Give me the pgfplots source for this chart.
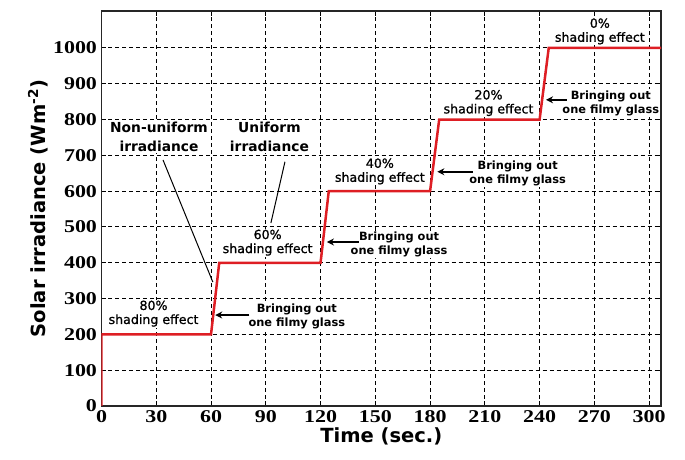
\documentclass[border=0pt]{standalone}
\usepackage{pgfplots}
\pgfplotsset{compat=1.18}
\usepackage{fontspec}
\setmainfont{DejaVu Sans}
\newfontfamily\tickfont[FakeStretch=1.22]{Liberation Serif}
\newfontfamily\semifont[FakeBold=1]{DejaVu Sans}
\usetikzlibrary{arrows.meta}
\definecolor{stepred}{RGB}{222,30,36}
\tikzset{
  annot/.style={fill=white, inner sep=1pt, align=center},
  shadetxt/.style={annot, font=\semifont\fontsize{12.6}{14}\selectfont},
  bringtxt/.style={annot, font=\bfseries\fontsize{11.4}{14}\selectfont},
  bigtxt/.style={annot, font=\bfseries\fontsize{13.8}{19}\selectfont},
  arr/.style={-{Stealth[length=7pt,width=7pt]}, line width=1.6pt, black},
}
\begin{document}
\begin{tikzpicture}
\begin{axis}[
  scale only axis, width=559.5pt, height=395pt,
  xmin=0, xmax=306.5, ymin=0, ymax=1103,
  xtick={0,30,60,90,120,150,180,210,240,270,300},
  ytick={0,100,200,300,400,500,600,700,800,900,1000},
  grid=major,
  grid style={line width=1pt, draw=black, dash pattern=on 4pt off 3pt},
  axis line style={line width=1.2pt, black!85},
  tick style={line width=1pt, draw=black}, major tick length=5pt,
  tick align=inside,
  /pgf/number format/assume math mode=true,
  /pgf/number format/set thousands separator={},
  xticklabel style={font=\tickfont\bfseries\fontsize{18}{18}\selectfont, yshift=-1pt},
  yticklabel style={font=\tickfont\bfseries\fontsize{18}{18}\selectfont, xshift=-1pt},
  xlabel={Time (sec.)}, ylabel={Solar irradiance (Wm\textsuperscript{-2})},
  xlabel style={font=\bfseries\fontsize{19.5}{20}\selectfont, yshift=2pt},
  ylabel style={font=\bfseries\fontsize{19.5}{20}\selectfont, yshift=-2pt},
]
\addplot[stepred, line width=2.5pt, line join=miter] coordinates {
  (0,0) (0,200) (60,200) (64.5,400) (120,400) (124.5,600) (180,600)
  (185,800) (240,800) (245,1000) (306.5,1000)
};
\coordinate (SW) at (rel axis cs:0,0);
\coordinate (NE) at (rel axis cs:1,1);
% annotations
\node[shadetxt] at (axis cs:28.5,258) {80\%\\shading effect};
\node[shadetxt] at (axis cs:91,456) {60\%\\shading effect};
\node[shadetxt] at (axis cs:152.5,655) {40\%\\shading effect};
\node[shadetxt] at (axis cs:212,846) {20\%\\shading effect};
\node[shadetxt] at (axis cs:273,1046) {0\%\\shading effect};

\node[bringtxt] at (axis cs:107,251) {Bringing out\\one filmy glass};
\node[bringtxt] at (axis cs:163,452) {Bringing out\\one filmy glass};
\node[bringtxt] at (axis cs:228,649) {Bringing out\\one filmy glass};
\node[bringtxt] at (axis cs:279,846) {Bringing out\\one filmy glass};

\draw[arr] (axis cs:81,254) -- (axis cs:62.3,254);
\draw[arr] (axis cs:141,458) -- (axis cs:123.5,458);
\draw[arr] (axis cs:203.5,654) -- (axis cs:184,654);
\draw[arr] (axis cs:255,855) -- (axis cs:243.5,855);

\draw[line width=1pt] (axis cs:33.7,687) -- (axis cs:61,346);
\draw[line width=1pt] (axis cs:100.5,682) -- (axis cs:92.8,511);
\node[bigtxt] at (axis cs:31.5,752) {Non-uniform\\irradiance};
\node[bigtxt] at (axis cs:92,752) {Uniform\\irradiance};
\end{axis}
\pgfresetboundingbox
\useasboundingbox ([shift={(-101.5pt,-54pt)}]SW) rectangle ([shift={(24pt,11pt)}]NE);
\end{tikzpicture}
\end{document}
